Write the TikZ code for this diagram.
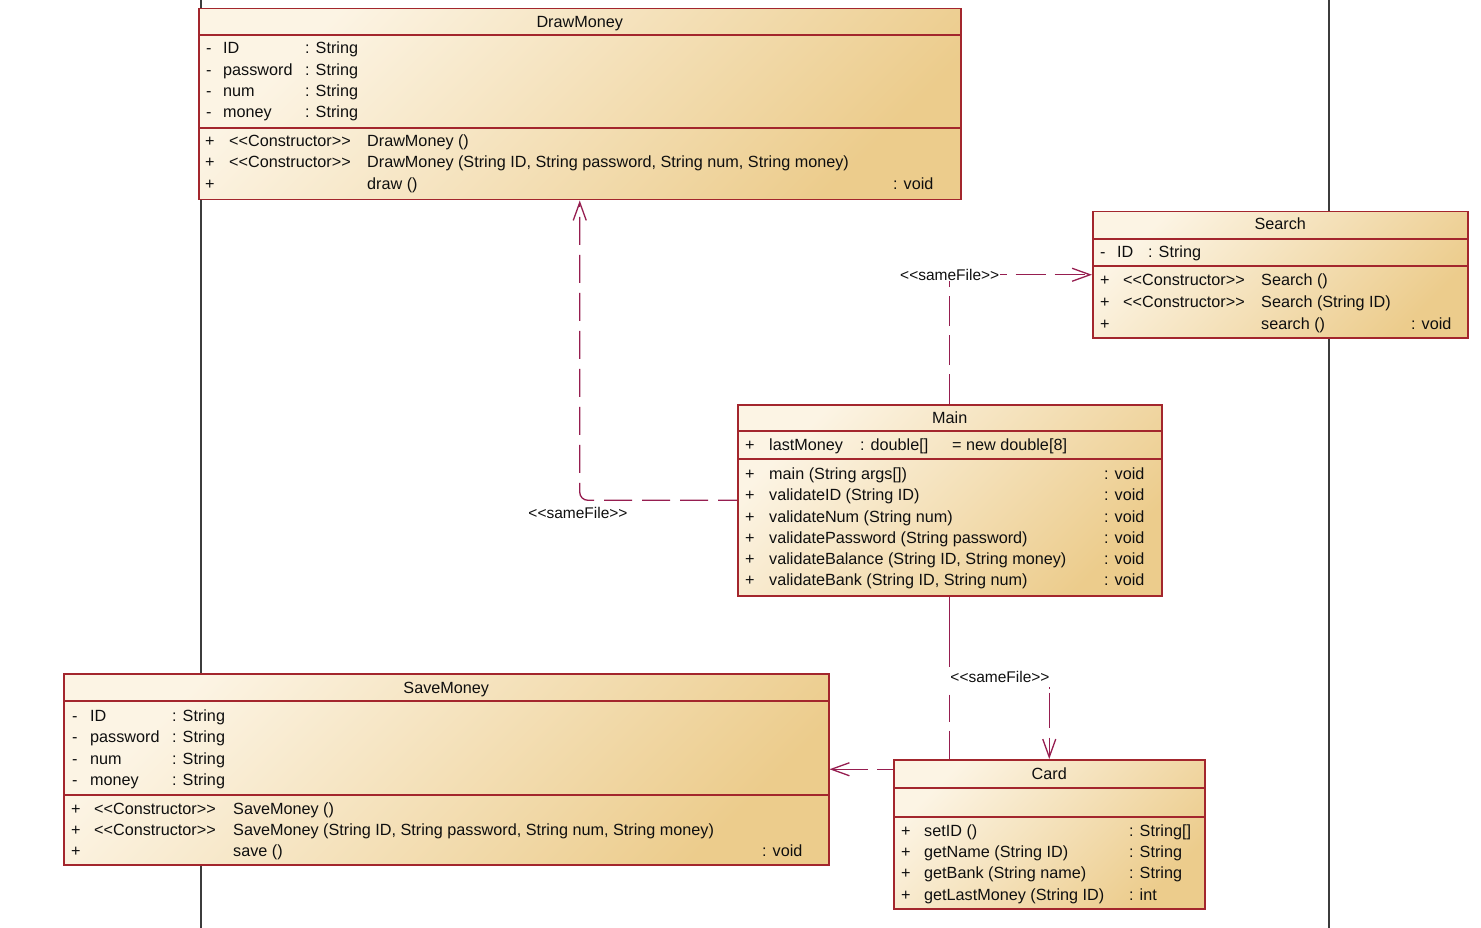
\documentclass[tikz,border=0pt]{standalone}
\usepackage{fontspec}
\setmainfont{Liberation Sans}
\usetikzlibrary{arrows.meta}
\definecolor{bordercol}{RGB}{163,38,45}
\definecolor{fillA}{RGB}{252,244,228}
\definecolor{fillB}{RGB}{236,204,140}
\definecolor{depcol}{RGB}{150,30,80}
\definecolor{txtcol}{RGB}{15,15,15}
\definecolor{lifecol}{RGB}{60,60,60}
\newcounter{tnum}
\newcommand\tx[3]{\stepcounter{tnum}\node[txt] (t\arabic{tnum}) at (#1,#2) {#3};}
\newcommand\stc{<{}<Constructor>{}>}
\newcommand\ssf{<{}<sameFile>{}>}
\begin{document}
\begin{tikzpicture}[x=1pt,y=-1pt,
 umlbox/.style={draw=bordercol, line width=1.5pt, top color=fillA, bottom color=fillB, shading angle=45, inner sep=0pt, anchor=north west},
 divline/.style={draw=bordercol, line width=1.5pt},
 txt/.style={anchor=base west, inner sep=0pt, text=txtcol, font=\fontsize{16.2}{19}\selectfont},
 ttl/.style={anchor=base, inner sep=0pt, text=txtcol, font=\fontsize{16.2}{19}\selectfont},
 lbl/.style={fill=white, inner sep=1pt, text=txtcol, font=\fontsize{15.5}{18}\selectfont},
 lblp/.style={inner sep=1pt, text=txtcol, font=\fontsize{15.5}{18}\selectfont},
 dep/.style={draw=depcol, line width=1.3pt},
 tip/.style={-{Straight Barb[length=18pt,width=13pt,line width=1.3pt]}},
 lifeline/.style={draw=lifecol, line width=1.5pt}]
\useasboundingbox (0,0) rectangle (1481,928);
% lifelines behind
\coordinate (la) at (201,0); \coordinate (lb) at (201,928);
\coordinate (lc) at (1329,0); \coordinate (ld) at (1329,928);
\draw[lifeline] (la) -- (lb);
\draw[lifeline] (lc) -- (ld);
% boxes
\node[umlbox, minimum width=762pt, minimum height=191pt] (dm) at (198,8) {};
\node[umlbox, minimum width=375pt, minimum height=126pt] (se) at (1092,211) {};
\node[umlbox, minimum width=424pt, minimum height=191pt] (mn) at (737,404) {};
\node[umlbox, minimum width=765pt, minimum height=191pt] (sm) at (63,673) {};
\node[umlbox, minimum width=311pt, minimum height=149pt] (cd) at (893,759) {};
% dividers
\draw[divline] (dm.west |- 0,35) -- (dm.east |- 0,35);
\draw[divline] (dm.west |- 0,128) -- (dm.east |- 0,128);
\draw[divline] (se.west |- 0,239) -- (se.east |- 0,239);
\draw[divline] (se.west |- 0,266) -- (se.east |- 0,266);
\draw[divline] (mn.west |- 0,431) -- (mn.east |- 0,431);
\draw[divline] (mn.west |- 0,459) -- (mn.east |- 0,459);
\draw[divline] (sm.west |- 0,701) -- (sm.east |- 0,701);
\draw[divline] (sm.west |- 0,795) -- (sm.east |- 0,795);
\draw[divline] (cd.west |- 0,788) -- (cd.east |- 0,788);
\draw[divline] (cd.west |- 0,817) -- (cd.east |- 0,817);
% DrawMoney
\node[ttl] (dmT) at (dm.north |- 0,28) {DrawMoney};
\tx{206}{54}{-} \tx{223}{54}{ID} \tx{305}{54}{: String}
\tx{206}{76}{-} \tx{223}{76}{password} \tx{305}{76}{: String}
\tx{206}{97}{-} \tx{223}{97}{num} \tx{305}{97}{: String}
\tx{206}{118}{-} \tx{223}{118}{money} \tx{305}{118}{: String}
\tx{205}{147}{+} \tx{229}{147}{\stc} \tx{367}{147}{DrawMoney ()}
\tx{205}{168}{+} \tx{229}{168}{\stc} \tx{367}{168}{DrawMoney (String ID, String password, String num, String money)}
\tx{205}{190}{+} \tx{367}{190}{draw ()} \tx{893}{190}{: void}
% Search
\node[ttl] (seT) at (se.north |- 0,230) {Search};
\tx{1100}{258}{-} \tx{1117}{258}{ID} \tx{1148}{258}{: String}
\tx{1100}{285}{+} \tx{1123}{285}{\stc} \tx{1261}{285}{Search ()}
\tx{1100}{307}{+} \tx{1123}{307}{\stc} \tx{1261}{307}{Search (String ID)}
\tx{1100}{329}{+} \tx{1261}{329}{search ()} \tx{1411}{329}{: void}
% Main
\node[ttl] (mnT) at (mn.north |- 0,423) {Main};
\tx{745}{450}{+} \tx{769}{450}{lastMoney} \tx{860}{450}{: double[]} \tx{952}{450}{= new double[8]}
\tx{745}{479}{+} \tx{769}{479}{main (String args[])} \tx{1104}{479}{: void}
\tx{745}{500}{+} \tx{769}{500}{validateID (String ID)} \tx{1104}{500}{: void}
\tx{745}{522}{+} \tx{769}{522}{validateNum (String num)} \tx{1104}{522}{: void}
\tx{745}{543}{+} \tx{769}{543}{validatePassword (String password)} \tx{1104}{543}{: void}
\tx{745}{564}{+} \tx{769}{564}{validateBalance (String ID, String money)} \tx{1104}{564}{: void}
\tx{745}{585}{+} \tx{769}{585}{validateBank (String ID, String num)} \tx{1104}{585}{: void}
% SaveMoney
\node[ttl] (smT) at (sm.north |- 0,693) {SaveMoney};
\tx{72}{721}{-} \tx{90}{721}{ID} \tx{172}{721}{: String}
\tx{72}{742}{-} \tx{90}{742}{password} \tx{172}{742}{: String}
\tx{72}{764}{-} \tx{90}{764}{num} \tx{172}{764}{: String}
\tx{72}{785}{-} \tx{90}{785}{money} \tx{172}{785}{: String}
\tx{71}{814}{+} \tx{94}{814}{\stc} \tx{233}{814}{SaveMoney ()}
\tx{71}{835}{+} \tx{94}{835}{\stc} \tx{233}{835}{SaveMoney (String ID, String password, String num, String money)}
\tx{71}{856}{+} \tx{233}{856}{save ()} \tx{762}{856}{: void}
% Card
\node[ttl] (cdT) at (cd.north |- 0,779) {Card};
\tx{901}{836}{+} \tx{924}{836}{setID ()} \tx{1129}{836}{: String[]}
\tx{901}{857}{+} \tx{924}{857}{getName (String ID)} \tx{1129}{857}{: String}
\tx{901}{878}{+} \tx{924}{878}{getBank (String name)} \tx{1129}{878}{: String}
\tx{901}{900}{+} \tx{924}{900}{getLastMoney (String ID)} \tx{1129}{900}{: int}
% connectors
\draw[dep, tip, rounded corners=8pt, dash pattern=on 28pt off 10pt, dash phase=9pt] (mn.west) -| (dm.south);
\node[lblp] (lab2) at (578,513) {\ssf};
\draw[dep, tip, dash pattern=on 30pt off 9pt] (mn.north) |- (se.west);
\node[lbl] (lab1) at (mn.north |- se.west) {\ssf};
\draw[dep, dash pattern=on 70pt off 28pt on 27pt off 9pt on 40pt] (mn.south) -- (mn.south |- cd.north);
\node[lblp] (lab3) at (1000,677) {\ssf};
\coordinate (c2) at (cd.north |- 0,687);
\draw[dep, tip, dash pattern=on 1.5pt off 4pt on 35pt off 10pt on 40pt] (c2) -- (cd.north);
\draw[dep, tip, dash pattern=on 16pt off 9pt on 40pt] (cd.west |- sm.east) -- (sm.east);
\end{tikzpicture}
\end{document}
